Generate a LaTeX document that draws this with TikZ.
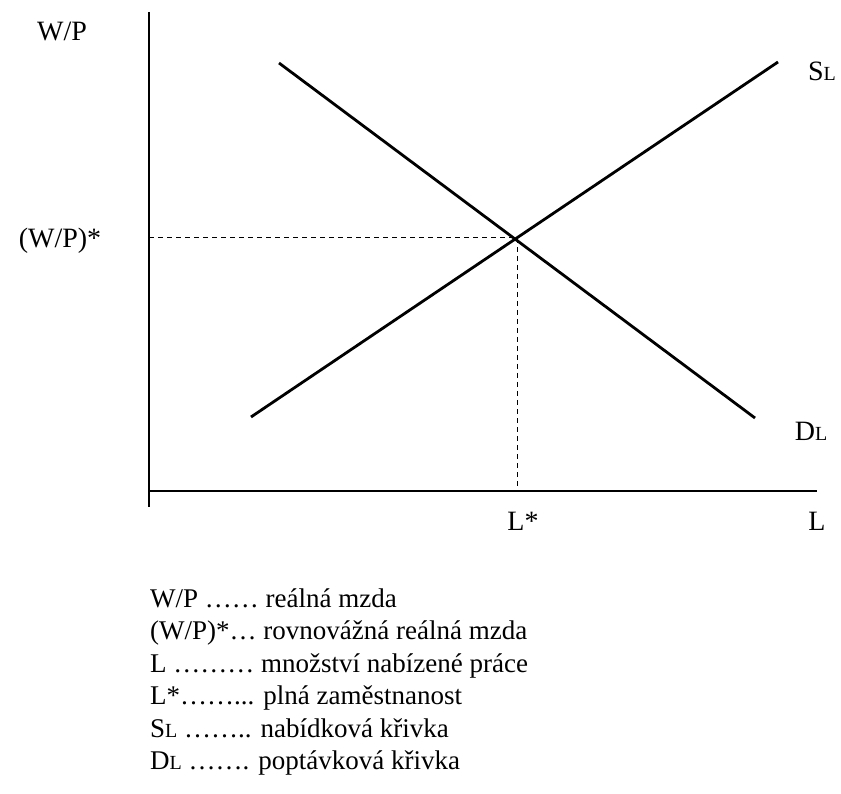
\documentclass[tikz,border=0pt]{standalone}
\usepackage{fontspec}
\setmainfont{Liberation Serif}
\newcommand{\subL}{{\fontsize{20}{20}\selectfont L}}
\tikzset{
    axis/.style={line width=1.5pt},
    curve/.style={line width=2.8pt},
    guide/.style={line width=1pt, dash pattern=on 5pt off 4pt},
    lbl/.style={font=\fontsize{28}{28}\selectfont, inner sep=0pt},
    legend/.style={font=\fontsize{27}{27}\selectfont, inner sep=0pt, anchor=base west}
}
\begin{document}
\begin{tikzpicture}[x=1pt, y=-1pt]
    \useasboundingbox (0,0) rectangle (841,794);
    % Axes
    \coordinate (top) at (149,12);
    \coordinate (bottom) at (149,507);
    \coordinate (origin) at (149,491);
    \coordinate (right) at (817,491);
    \draw[axis] (top) -- (bottom);
    \draw[axis] (origin) -- (right);
    % Curves
    \coordinate (dA) at (279,63); \coordinate (dB) at (755,418);
    \coordinate (sA) at (251,417); \coordinate (sB) at (778,62);
    \draw[curve] (dA) -- (dB);
    \draw[curve] (sA) -- (sB);
    % Equilibrium
    \coordinate (eq) at (517,238);
    \coordinate (eqy) at (149,238);
    \coordinate (eqx) at (517,491);
    \draw[guide] (eqy) -- (eq);
    \draw[guide] (eq) -- (eqx);
    % Labels
    \node[lbl] (wp) at (62,31) {W/P};
    \node[lbl] (wpstar) at (60,241) {(W/P)*};
    \node[lbl] (sl) at (822,71) {S\subL};
    \node[lbl] (dl) at (811,431) {D\subL};
    \node[lbl] (lstar) at (523,521) {L*};
    \node[lbl] (lax) at (817,521) {L};
    % Legend
    \node[legend] (leg1) at (150,607) {W/P …… reálná mzda};
    \node[legend] (leg2) at (150,639.5) {(W/P)*… rovnovážná reálná mzda};
    \node[legend] (leg3) at (150,672) {L ……… množství nabízené práce};
    \node[legend] (leg4) at (150,704.5) {L*……... plná zaměstnanost};
    \node[legend] (leg5) at (150,737) {S\subL\ …….. nabídková křivka};
    \node[legend] (leg6) at (150,769.5) {D\subL\ ……. poptávková křivka};
\end{tikzpicture}
\end{document}
